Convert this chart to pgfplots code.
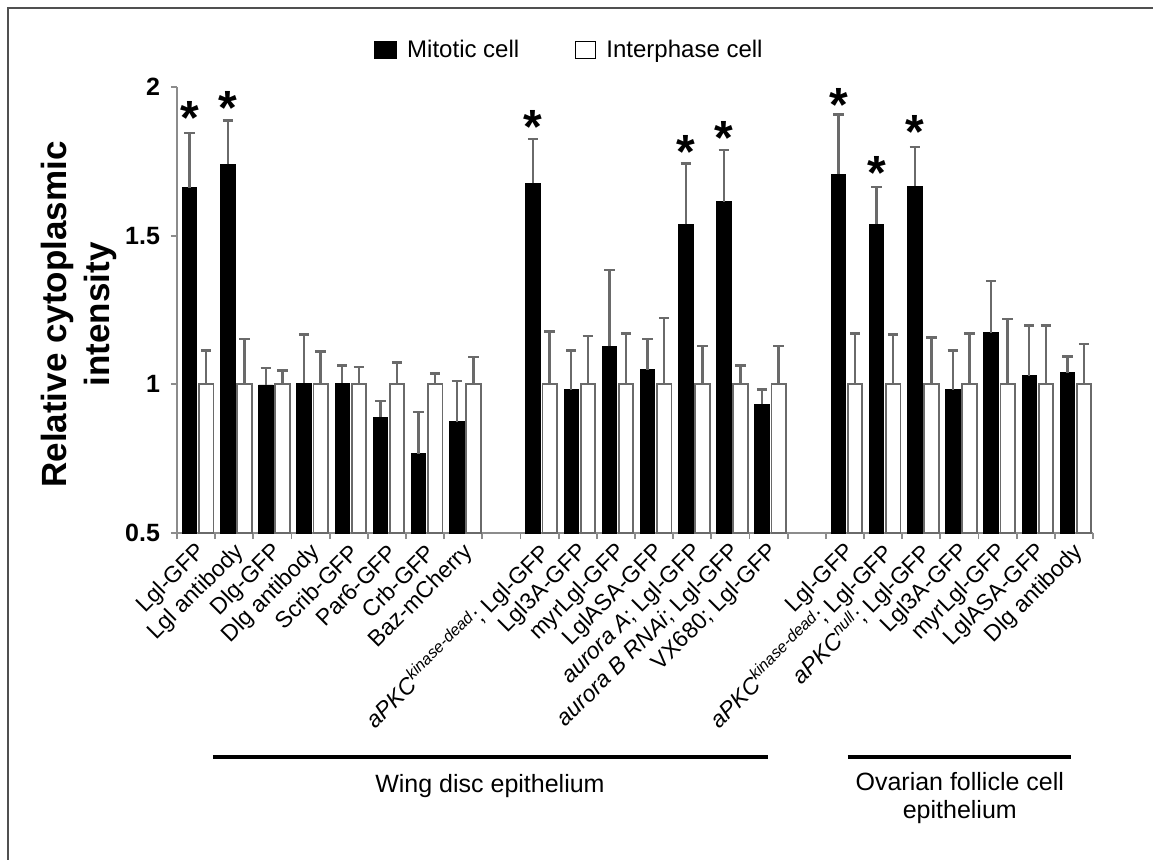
\documentclass[border=0pt]{standalone}
\usepackage{fontspec}
\setmainfont{Liberation Sans}
\usepackage{pgfplots}
\usepackage{pgfplotstable}
\pgfplotsset{compat=1.18}

\definecolor{axgray}{HTML}{8C8C8C}
\definecolor{errgray}{HTML}{6A6A6A}
\definecolor{framegray}{HTML}{505050}

% black (mitotic) bars: x position, mean, upper error
\pgfplotstableread{
x y e
0.33 1.662 0.184
1.33 1.740 0.147
2.33 0.998 0.056
3.33 1.004 0.163
4.33 1.004 0.059
5.33 0.890 0.053
6.33 0.767 0.140
7.33 0.875 0.136
9.33 1.676 0.149
10.33 0.982 0.132
11.33 1.128 0.256
12.33 1.049 0.103
13.33 1.538 0.205
14.33 1.614 0.174
15.33 0.933 0.050
17.33 1.706 0.202
18.33 1.538 0.126
19.33 1.667 0.132
20.33 0.982 0.132
21.33 1.174 0.173
22.33 1.029 0.169
23.33 1.039 0.055
}\mitotic

% white (interphase) bars
\pgfplotstableread{
x y e
0.765 1 0.114
1.765 1 0.153
2.765 1 0.047
3.765 1 0.110
4.765 1 0.058
5.765 1 0.073
6.765 1 0.036
7.765 1 0.091
9.765 1 0.178
10.765 1 0.162
11.765 1 0.171
12.765 1 0.223
13.765 1 0.129
14.765 1 0.063
15.765 1 0.129
17.765 1 0.171
18.765 1 0.167
19.765 1 0.157
20.765 1 0.171
21.765 1 0.219
22.765 1 0.198
23.765 1 0.135
}\interphase

% significance asterisks
\pgfplotstableread{
x y
0.33 1.928
1.33 1.962
9.33 1.900
13.33 1.816
14.33 1.861
17.33 1.973
18.33 1.743
19.33 1.883
}\stars

\begin{document}
\begin{tikzpicture}
\begin{axis}[
  scale only axis, width=458pt, height=223pt,
  xmin=0, xmax=24, ymin=0.5, ymax=2,
  axis x line=bottom, axis y line=left,
  axis line style={-, axgray, line width=0.9pt},
  clip mode=individual,
  ytick={0.5,1,1.5,2},
  yticklabel style={font=\bfseries\fontsize{12.5}{14}\selectfont,
     /pgf/number format/assume math mode=true, xshift=-2pt},
  xtick={0.7,1.7,2.7,3.7,4.7,5.7,6.7,7.7,9.7,10.7,11.7,12.7,13.7,14.7,15.7,17.7,18.7,19.7,20.7,21.7,22.7,23.7},
  xticklabels={{Lgl-GFP},{Lgl antibody},{Dlg-GFP},{Dlg antibody},{Scrib-GFP},{Par6-GFP},{Crb-GFP},{Baz-mCherry},
    {\textit{aPKC}\textsuperscript{\textit{kinase-dead}}; Lgl-GFP},{Lgl3A-GFP},{myrLgl-GFP},{LglASA-GFP},
    {\textit{aurora A}; Lgl-GFP},{\textit{aurora B RNAi}; Lgl-GFP},{VX680; Lgl-GFP},
    {Lgl-GFP},{\textit{aPKC}\textsuperscript{\textit{kinase-dead}}; Lgl-GFP},{\textit{aPKC}\textsuperscript{\textit{null}}; Lgl-GFP},
    {Lgl3A-GFP},{myrLgl-GFP},{LglASA-GFP},{Dlg antibody}},
  xticklabel style={font=\fontsize{11.5}{13}\selectfont, rotate=45, anchor=east, inner sep=1pt},
  xticklabel shift=4pt,
  minor xtick={0,1,...,24},
  tick align=outside,
  major tick length=3pt, minor tick length=3pt,
  major x tick style={draw=none},
  tick style={axgray, line width=0.9pt},
  ylabel={Relative cytoplasmic\\intensity},
  ylabel style={align=center, font=\bfseries\fontsize{17.5}{21.5}\selectfont,
     at={(axis description cs:-0.1075,0.49)}, anchor=center},
  legend style={at={(axis description cs:0.4296,1.083)}, anchor=center, draw=none, fill=none,
     legend columns=2, font=\fontsize{12}{14}\selectfont,
     /tikz/every odd column/.append style={column sep=3pt},
     /tikz/every even column/.append style={column sep=26pt}},
]
\addplot[ybar, bar width=0.38, bar shift=0pt, fill=black, draw=black, forget plot,
  error bars/.cd, y dir=plus, y explicit,
  error bar style={errgray, line width=1.2pt},
  error mark options={errgray, line width=1.2pt, mark size=2.6pt, rotate=90}]
  table[x=x, y=y, y error=e] {\mitotic};
\addplot[ybar, bar width=0.38, bar shift=0pt, fill=white, draw=errgray, line width=0.9pt, forget plot,
  error bars/.cd, y dir=plus, y explicit,
  error bar style={errgray, line width=1.2pt},
  error mark options={errgray, line width=1.2pt, mark size=2.6pt, rotate=90}]
  table[x=x, y=y, y error=e] {\interphase};
\addplot[only marks, mark=text, text mark={*}, text mark as node=true,
  text mark style={font=\bfseries\fontsize{24}{24}\selectfont, inner sep=0pt, anchor=center, yshift=-5pt}, forget plot]
  table[x=x, y=y] {\stars};

\addlegendimage{legend image code/.code={\draw[fill=black, draw=black] (0pt,-4.3pt) rectangle (11pt,4.3pt);}}
\addlegendentry{Mitotic cell}
\addlegendimage{legend image code/.code={\draw[fill=white, draw=black, line width=0.6pt] (0pt,-4.3pt) rectangle (10pt,4.3pt);}}
\addlegendentry{Interphase cell}

\draw[line width=2pt] (axis cs:0.94,-0.2525) -- (axis cs:15.48,-0.2525);
\draw[line width=2pt] (axis cs:17.58,-0.2525) -- (axis cs:23.42,-0.2525);
\node[font=\fontsize{12.5}{15}\selectfont] at (axis cs:8.2,-0.350) {Wing disc epithelium};
\node[align=center, font=\fontsize{12.5}{14}\selectfont] at (axis cs:20.51,-0.391) {Ovarian follicle cell\\epithelium};
\end{axis}
\draw[framegray, line width=1.2pt] (-84.5pt,-170pt) -- (-84.5pt,262.5pt) -- (495pt,262.5pt);
\pgfresetboundingbox
\path[use as bounding box] (-88.5pt,-163pt) rectangle (488pt,266.5pt);
\end{tikzpicture}
\end{document}
